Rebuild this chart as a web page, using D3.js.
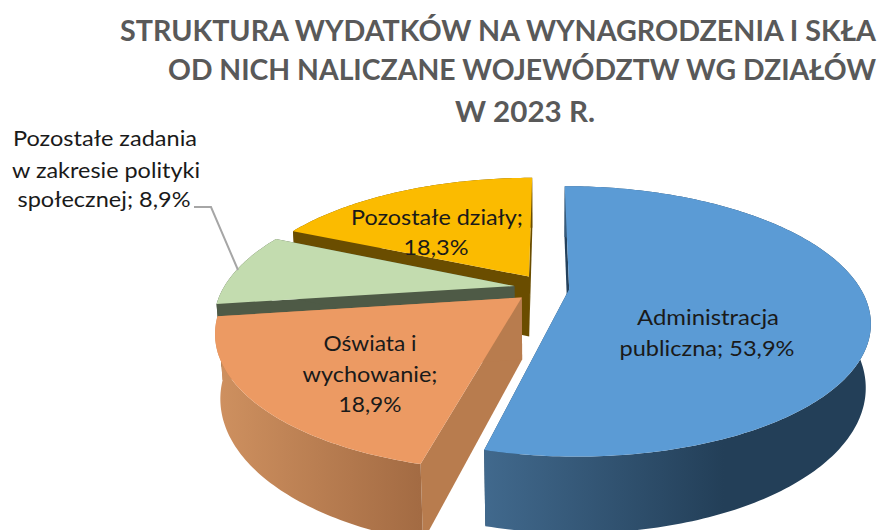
<!DOCTYPE html>
<html lang="pl"><head><meta charset="utf-8">
<script src="https://cdn.jsdelivr.net/npm/d3@7/dist/d3.min.js"></script>
<style>html,body{margin:0;padding:0;background:#fff;overflow:hidden}svg{display:block}text{font-family:Lato,"Open Sans",sans-serif}</style>
</head><body><svg id="c" width="880" height="530"></svg>
<script>
const categories = ["Administracja publiczna","Oświata i wychowanie","Pozostałe zadania w zakresie polityki społecznej","Pozostałe działy"];
const values = [53.9,18.9,8.9,18.3];
const explode = [0.08,0.11,0.11,0.11];
const topColors = ["#5b9bd5","#ec9a63","#c3dcaf","#fbbb00"];
const faceColors = ["#24415c","#b87c4e","#4e5a46","#6a4d00"];
const wallStops = [["#41698d","#233f58"],["#cf9160","#a36b43"],["#4e5a46","#4e5a46"],["#6a4d00","#6a4d00"]];
const titleLines = ["STRUKTURA WYDATKÓW NA WYNAGRODZENIA I SKŁA","OD NICH NALICZANE WOJEWÓDZTW WG DZIAŁÓW","W 2023 R."];
const labelLines = [["Administracja","publiczna; 53,9%"],["Oświata i","wychowanie;","18,9%"],["Pozostałe zadania","w zakresie polityki","społecznej; 8,9%"],["Pozostałe działy;","18,3%"]];

// layout
const cam = {cx:546, cy:288, a:291, b:127, k:0.237, c:62, m:0.015};
const titlePos = [[120,41,756],[168,80,708],[455,122,140]];
const labelPos = [
  [[708,325,142],[707,356,175]],
  [[370,351,93],[370,382,135],[370,412,63]],
  [[105,146,184],[106,178,188],[104,207,173]],
  [[437,225,172],[436,255,65]]
];
const leader = [[194,207],[211,207],[238,270]];

const svg = d3.select("#c");
const defs = svg.append("defs");
const project = (u,v,z) => {
  const w = 1 - cam.k*v + cam.m*z;
  return [cam.cx + cam.a*u/w, cam.cy + (cam.b*v + cam.c*z)/w];
};
const line = d3.line();
const arcs = d3.pie().sort(null).value(d=>d).startAngle(0).endAngle(2*Math.PI)(values);

const slices = arcs.map((d,i)=>{
  const mid = (d.startAngle+d.endAngle)/2;
  const ou = explode[i]*Math.sin(mid), ov = -explode[i]*Math.cos(mid);
  const n = Math.max(8,Math.round((d.endAngle-d.startAngle)*60));
  const rim = d3.range(n+1).map(j=>{
    const t = d.startAngle+(d.endAngle-d.startAngle)*j/n;
    return [ou+Math.sin(t), ov-Math.cos(t)];
  });
  return {i,ou,ov,rim};
});

// paint back to front: yellow, green, orange, blue
[3,2,1,0].forEach(i=>{
  const s = slices[i];
  const at = (p,z)=>project(p[0],p[1],z);
  const apex = [s.ou,s.ov];
  const g = svg.append("g").attr("class","slice");
  const first = s.rim[0], last = s.rim[s.rim.length-1];
  [first,last].forEach(p=>{
    g.append("path")
      .attr("d", line([at(apex,0),at(p,0),at(p,1),at(apex,1)])+"Z")
      .attr("fill", faceColors[i]);
  });
  const topRim = s.rim.map(p=>at(p,0));
  const botRim = s.rim.map(p=>at(p,1));
  const xs = d3.extent(topRim,p=>p[0]);
  const id = "wall"+i;
  const grad = defs.append("linearGradient").attr("id",id).attr("gradientUnits","userSpaceOnUse")
    .attr("x1", xs[0]).attr("x2", i===0?xs[0]+(xs[1]-xs[0])*0.62:xs[1]).attr("y1",0).attr("y2",0);
  const stops = wallStops[i];
  grad.append("stop").attr("offset",0).attr("stop-color",stops[0]);
  grad.append("stop").attr("offset",1).attr("stop-color",stops[1]);
  g.append("path")
    .attr("d", line(topRim.concat(botRim.slice().reverse()))+"Z")
    .attr("fill",`url(#${id})`);
  g.append("path")
    .attr("d", line([at(apex,0)].concat(topRim))+"Z")
    .attr("fill", topColors[i]);
});

svg.append("path").attr("d",line(leader)).attr("fill","none").attr("stroke","#a6a6a6").attr("stroke-width",2);

titleLines.forEach((t,i)=>{
  const p = titlePos[i];
  svg.append("text").attr("x",p[0]).attr("y",p[1]).attr("textLength",p[2]).attr("lengthAdjust","spacingAndGlyphs")
    .attr("font-size",28).attr("font-weight",700).attr("fill","#595959").text(t);
});
labelLines.forEach((lines,i)=>{
  lines.forEach((t,j)=>{
    const p = labelPos[i][j];
    svg.append("text").attr("x",p[0]).attr("y",p[1]).attr("text-anchor","middle")
      .attr("textLength",p[2]).attr("lengthAdjust","spacingAndGlyphs")
      .attr("font-size",22).attr("fill","#1a1a1a").text(t);
  });
});
</script></body></html>
